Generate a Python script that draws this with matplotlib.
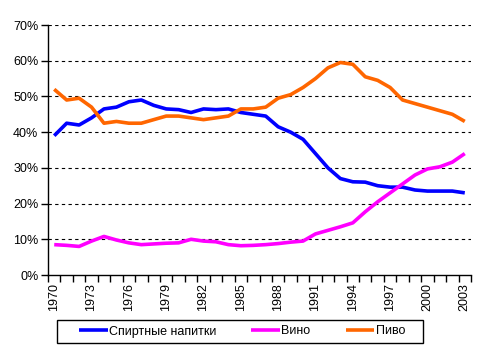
import matplotlib
matplotlib.use('Agg')
import matplotlib.pyplot as plt
from matplotlib.patches import Rectangle
import numpy as np

plt.rcParams['font.family'] = ['Liberation Sans', 'DejaVu Sans']

years = list(range(1970, 2004))

spirits = [39, 42.5, 42, 44, 46.5, 47, 48.5, 49, 47.5, 46.5, 46.3, 45.5, 46.5, 46.3, 46.5,
           45.5, 45, 44.5, 41.5, 40, 38, 34, 30, 27, 26.1, 26, 25, 24.6, 24.6, 23.8,
           23.5, 23.5, 23.5, 23]
wine = [8.5, 8.3, 8.0, 9.5, 10.8, 9.8, 9.0, 8.5, 8.7, 8.9, 9.0, 10.0, 9.5, 9.3, 8.5,
        8.2, 8.3, 8.5, 8.8, 9.2, 9.5, 11.5, 12.5, 13.5, 14.6, 17.7, 20.5, 23, 25.5, 28,
        29.7, 30.3, 31.6, 34]
beer = [52, 49, 49.5, 47, 42.5, 43, 42.5, 42.5, 43.5, 44.5, 44.5, 44, 43.5, 44, 44.5,
        46.5, 46.5, 47, 49.5, 50.5, 52.5, 55, 58, 59.5, 59, 55.5, 54.5, 52.5, 49, 48,
        47, 46, 45, 43]

names = ['Спиртные напитки', 'Вино', 'Пиво']
colors = ['#0000FF', '#FF00FF', '#FF6600']

fig = plt.figure(figsize=(4.86, 3.51), dpi=100)
ax = fig.add_axes([48/486, 1 - 275/351, 423/486, 250/351])

x = np.arange(len(years))
for vals, name, c in zip([spirits, wine, beer], names, colors):
    ax.plot(x, vals, color=c, lw=2.6, label=name, solid_capstyle='butt')

ax.set_xlim(-0.5, len(years) - 0.5)
ax.set_ylim(0, 70)
ax.set_yticks(range(0, 71, 10))
ax.set_yticklabels([f'{v}%' for v in range(0, 71, 10)], fontsize=9)
for v in range(10, 71, 10):
    ax.axhline(v, color='black', lw=0.8, ls=(0, (3, 3)), zorder=0)

ax.set_xticks(np.arange(-0.5, len(years), 1), minor=True)
ax.set_xticks(x[::3])
ax.set_xticklabels([str(y) for y in years[::3]], rotation=90, fontsize=9)
ax.tick_params(axis='x', which='major', length=0, pad=6)
ax.tick_params(axis='x', which='minor', length=5, width=1, direction='out')
ax.tick_params(axis='y', length=5, width=1, direction='out', pad=2)

for s in ['top', 'right']:
    ax.spines[s].set_visible(False)
ax.spines['left'].set_linewidth(1)
ax.spines['bottom'].set_linewidth(1)

fig.patches.append(Rectangle((57/486, 1 - 343/351), 366/486, 23/351,
                             transform=fig.transFigure, fill=False,
                             edgecolor='black', lw=1))
fig.legend(loc='center', bbox_to_anchor=(242/486, 1 - 331.5/351),
           ncol=3, fontsize=9, frameon=False, handlelength=2.3,
           handletextpad=0.1, columnspacing=2.8, borderpad=0)

fig.savefig('out.png', dpi=100)
